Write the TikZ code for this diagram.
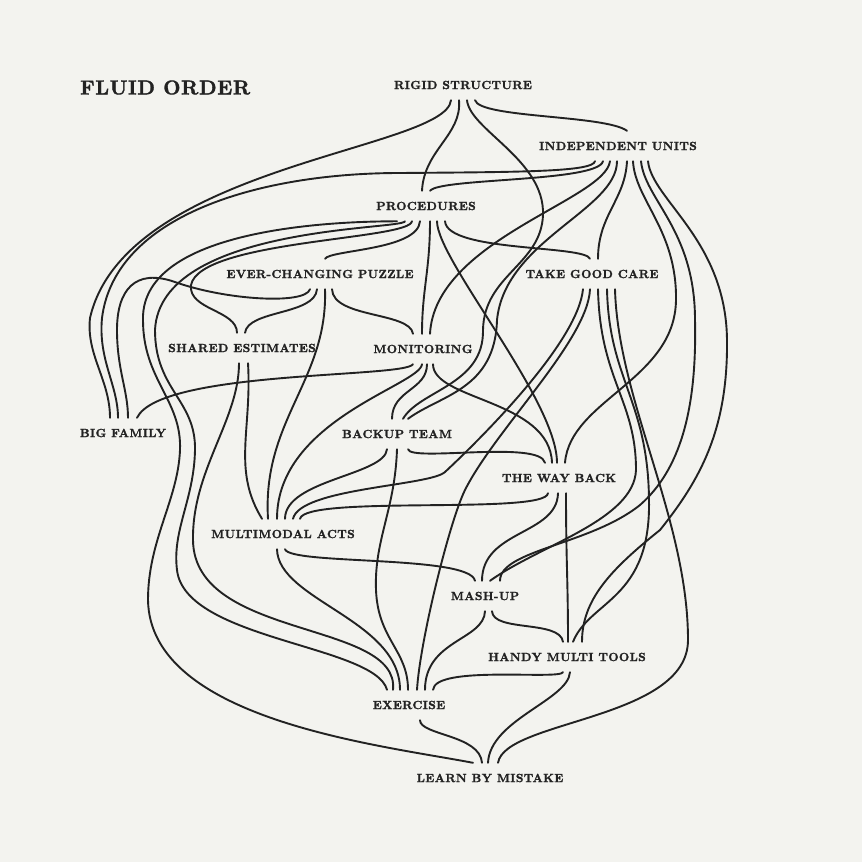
\documentclass[tikz,border=0pt]{standalone}
\usepackage{fontspec}
\usepackage{tikz}
\newfontfamily\heavyfam{lmroman10-bold.otf}[LetterSpace=3,FakeBold=1.6]
\definecolor{paper}{HTML}{F3F3EF}
\definecolor{ink}{HTML}{222222}
\newcommand\lblfont{\heavyfam\fontsize{11.9}{11.9}\selectfont}
\newcommand\ttlfont{\heavyfam\fontsize{20}{20}\selectfont}

\begin{document}
\begin{tikzpicture}[x=1pt,y=1pt,
 lbl/.style={font=\lblfont,text=ink,inner xsep=1pt,inner ysep=0pt,minimum height=30pt},
 link/.style={ink,line width=1.9pt,line cap=round}]
\useasboundingbox (0,0) rectangle (862,-862);
\fill[paper] (0,0) rectangle (862,-862);
\node[font=\ttlfont,text=ink,anchor=west,inner sep=0pt] (title) at (80,-87.5) {FLUID ORDER};
% labels
\foreach \nm/\x/\y/\txt in {rs/463/85/RIGID STRUCTURE, iu/618/146/INDEPENDENT UNITS,
  proc/426/206/PROCEDURES, ecp/320/274/EVER-CHANGING PUZZLE, tgc/592/274/TAKE GOOD CARE,
  se/242/348/SHARED ESTIMATES, mon/423/349/MONITORING, big/123/433/BIG FAMILY,
  bt/397/434/BACKUP TEAM, wb/559/478/THE WAY BACK, mm/283/534/MULTIMODAL ACTS,
  mu/485/596/MASH-UP, hmt/567/657/HANDY MULTI TOOLS, ex/409/705/EXERCISE,
  lbm/490/778/LEARN BY MISTAKE}
 \node[lbl] (\nm) at (\x,-\y) {\txt};
% short links, one bend
\foreach \src/\i/\dst/\j/\p/\q/\r/\s in {
  rs/-4/proc/-4/3/-35/2/41, rs/12/iu/9/5/-18/-22/16,
  iu/-15/proc/4/-5/-21/10/13, iu/-8/mon/7/-5/-39/5/94, iu/9/tgc/6/-2/-39/0/44,
  proc/-6/ecp/5/-2/-29/5/9, proc/4/mon/-1/0/-49/0/44, proc/11/wb/-2/0/-39/0/63,
  proc/19/tgc/-2/2/-31/-5/14,
  ecp/-3/se/3/-2/-26/3/23, ecp/5/mm/-15/3/-91/-6/99, ecp/12/mon/-10/1/-29/-3/22,
  se/6/mm/-21/4/-67/-30/49,
  mon/-10/big/14/-8/-14/23/48, mon/-1/mm/-6/-2/-21/0/99, mon/4/bt/-5/0/-26/0/29,
  mon/10/wb/-7/0/-36/-2/63,
  bt/-10/mm/2/-2/-26/0/39, bt/11/wb/-14/2/-13/-5/23,
  wb/-11/mm/17/-2/-22/5/24, wb/-1/mu/-3/-1/-42/0/51, wb/7/hmt/1/0/-67/0/62,
  mm/-6/ex/-9/1/-51/0/70, mm/2/mu/-10/5/-16/-5/26,
  mu/0/ex/16/-1/-29/0/50, mu/7/hmt/-4/1/-21/-3/22,
  hmt/-4/ex/24/-3/-8/2/25, hmt/3/lbm/-2/-2/-28/2/43,
  ex/11/lbm/-8/0/-15/-2/28}
 \draw[link] ([xshift=\i pt]\src.south) .. controls +(\p,\q) and +(\r,\s) .. ([xshift=\j pt]\dst.north);
% long links
\draw[link] ([xshift=-12pt]rs.south) .. controls (446,-150) and (125,-165) .. (90,-318)
  .. controls (86,-355) and (110,-380) .. ([xshift=-13pt]big.north);
\draw[link] ([xshift=4pt]rs.south) .. controls (470,-130) and (545,-160) .. (543,-215)
  .. controls (541,-265) and (484,-275) .. (483,-330) .. controls (484,-385) and (420,-390) .. ([xshift=6pt]bt.north);
\draw[link] ([xshift=-23pt]iu.south) .. controls (593,-172) and (520,-172) .. (400,-173)
  .. controls (260,-173) and (115,-215) .. (102,-318) .. controls (98,-360) and (118,-385) .. ([xshift=-5pt]big.north);
\draw[link] ([xshift=-1pt]iu.south) .. controls (617,-210) and (505,-240) .. (497,-320)
  .. controls (495,-390) and (440,-395) .. ([xshift=11pt]bt.north);
\draw[link] ([xshift=15pt]iu.south) .. controls (635,-200) and (677,-230) .. (676,-300)
  .. controls (675,-380) and (570,-400) .. ([xshift=6pt]wb.north);
\draw[link] ([xshift=23pt]iu.south) .. controls (645,-200) and (695,-230) .. (695,-320)
  .. controls (697,-410) and (680,-470) .. (640,-505) .. controls (590,-545) and (500,-550) .. ([xshift=15pt]mu.north);
\draw[link] ([xshift=30pt]iu.south) .. controls (652,-200) and (726,-240) .. (727,-340)
  .. controls (728,-430) and (700,-480) .. (660,-530) .. controls (610,-570) and (582,-600) .. ([xshift=15pt]hmt.north);
\draw[link] ([xshift=-29pt]proc.south) .. controls (396,-222) and (140,-215) .. (143,-320)
  .. controls (143,-380) and (182,-400) .. (180,-450) .. controls (178,-500) and (148,-540) .. (148,-600)
  .. controls (150,-720) and (380,-745) .. ([xshift=-17pt]lbm.north);
\draw[link] ([xshift=-21pt]proc.south) .. controls (404,-230) and (160,-225) .. (155,-330)
  .. controls (155,-390) and (196,-400) .. (195,-450) .. controls (194,-500) and (172,-530) .. (177,-570)
  .. controls (185,-640) and (375,-645) .. ([xshift=-22pt]ex.north);
\draw[link] ([xshift=-14pt]proc.south) .. controls (410,-240) and (200,-240) .. (191,-285)
  .. controls (188,-310) and (237,-310) .. ([xshift=-5pt]se.north);
\draw[link] ([xshift=-10pt]ecp.south) .. controls (305,-305) and (225,-300) .. (175,-282)
  .. controls (135,-268) and (117,-290) .. (117,-330) .. controls (117,-370) and (128,-390) .. ([xshift=5pt]big.north);
\draw[link] ([xshift=-9pt]tgc.south) .. controls (578,-340) and (490,-430) .. (445,-472)
  .. controls (430,-486) and (300,-488) .. ([xshift=10pt]mm.north);
\draw[link] ([xshift=-2pt]tgc.south) .. controls (588,-340) and (495,-430) .. (465,-490)
  .. controls (450,-520) and (420,-640) .. ([xshift=8pt]ex.north);
\draw[link] ([xshift=6pt]tgc.south) .. controls (600,-380) and (636,-400) .. (636,-470)
  .. controls (634,-520) and (540,-545) .. ([xshift=5pt]mu.north);
\draw[link] ([xshift=15pt]tgc.south) .. controls (609,-380) and (648,-400) .. (649,-500)
  .. controls (651,-600) and (590,-600) .. ([xshift=6pt]hmt.north);
\draw[link] ([xshift=23pt]tgc.south) .. controls (618,-400) and (688,-520) .. (688,-640)
  .. controls (688,-720) and (505,-720) .. ([xshift=8pt]lbm.north);
\draw[link] ([xshift=-3pt]se.south) .. controls (239,-420) and (192,-470) .. (193,-540)
  .. controls (194,-640) and (400,-620) .. ([xshift=-16pt]ex.north);
\draw[link] (bt.south) .. controls (395,-510) and (374,-540) .. (376,-590)
  .. controls (378,-640) and (408,-650) .. ([xshift=-1pt]ex.north);
\end{tikzpicture}
\end{document}
